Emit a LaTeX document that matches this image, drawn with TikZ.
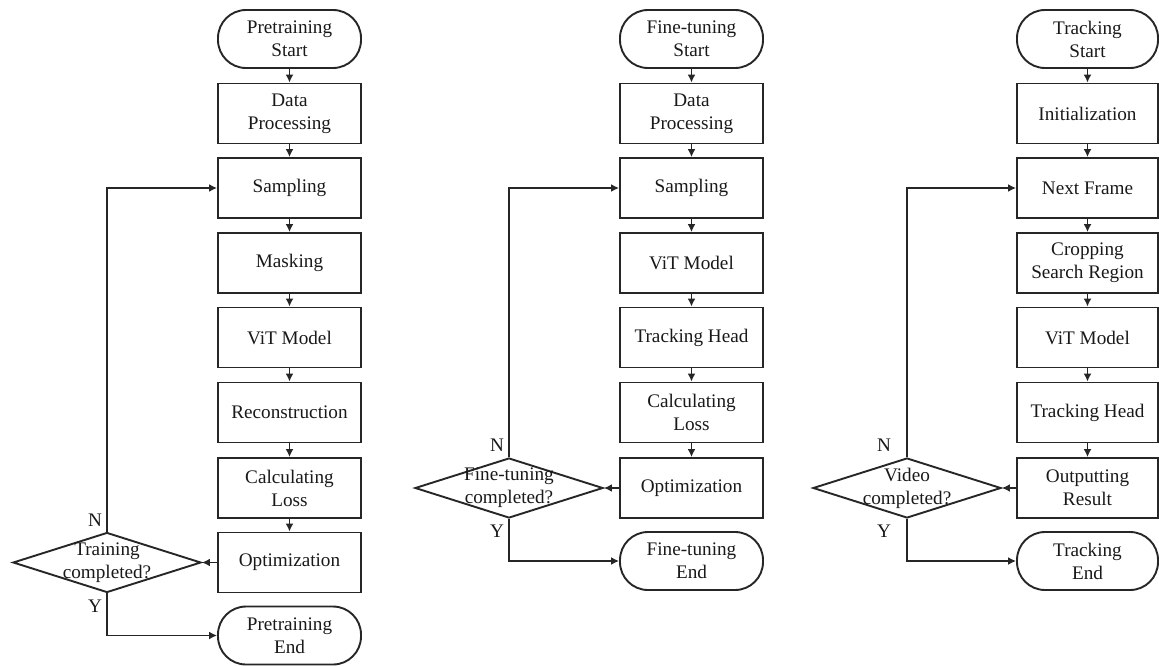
\documentclass[tikz,border=0pt]{standalone}
\usepackage{fontspec}
\setmainfont{Liberation Serif}
\usetikzlibrary{shapes.geometric,arrows.meta}
\begin{document}
\begin{tikzpicture}[x=1pt,y=-1pt,
  every node/.style={font=\fontsize{19.2}{23}\selectfont, text=black!90},
  lw/.style={line width=1.9pt, draw=black!85},
  procbox/.style={lw, draw, rectangle, minimum width=143pt, minimum height=60pt, inner sep=0pt, align=center},
  termbox/.style={lw, draw, rectangle, rounded corners=28pt, minimum width=143pt, minimum height=58pt, inner sep=0pt, align=center},
  decbox/.style={lw, draw, diamond, minimum width=188pt, minimum height=60pt, inner sep=0pt},
  arr/.style={lw, -{Latex[length=8pt,width=8pt]}},
  lbl/.style={inner sep=0pt}
]
\useasboundingbox (0,0) rectangle (1159,665);
% ---------- Column 1: Pretraining ----------
\node[termbox] (a0) at (289.5,39) {Pretraining\\Start};
\node[procbox] (a1) at (289.5,113.5) {Data\\Processing};
\node[procbox] (a2) at (289.5,188) {Sampling};
\node[procbox] (a3) at (289.5,263) {Masking};
\node[procbox] (a4) at (289.5,337.5) {ViT Model};
\node[procbox] (a5) at (289.5,412.5) {Reconstruction};
\node[procbox] (a6) at (289.5,488) {Calculating\\Loss};
\node[procbox] (a7) at (289.5,562.5) {Optimization};
\node[termbox] (a8) at (289.5,635.5) {Pretraining\\End};
\node[decbox] (ad) at (107,562.5) {};
\node[align=center, inner sep=0pt] (adt) at (107,562.5) {Training\\completed?};
\node[lbl] (aN) at (95,520) {N};
\node[lbl] (aY) at (95,606) {Y};
\foreach \i/\j in {a0/a1,a1/a2,a2/a3,a3/a4,a4/a5,a5/a6,a6/a7} \draw[arr] (\i) -- (\j);
\draw[arr] (a7.west) -- (ad.east);
\draw[arr] (ad.north) |- (a2.west);
\draw[arr] (ad.south) |- (a8.west);
% ---------- Column 2: Fine-tuning ----------
\node[termbox] (b0) at (691.5,39) {Fine-tuning\\Start};
\node[procbox] (b1) at (691.5,113.5) {Data\\Processing};
\node[procbox] (b2) at (691.5,188) {Sampling};
\node[procbox] (b3) at (691.5,263) {ViT Model};
\node[procbox] (b4) at (691.5,337.5) {Tracking Head};
\node[procbox] (b5) at (691.5,412.5) {Calculating\\Loss};
\node[procbox] (b6) at (691.5,488) {Optimization};
\node[termbox] (b7) at (691.5,561) {Fine-tuning\\End};
\node[decbox] (bd) at (509,488) {};
\node[align=center, inner sep=0pt] (bdt) at (509,488) {Fine-tuning\\completed?};
\node[lbl] (bN) at (497,445) {N};
\node[lbl] (bY) at (497,531) {Y};
\foreach \i/\j in {b0/b1,b1/b2,b2/b3,b3/b4,b4/b5,b5/b6} \draw[arr] (\i) -- (\j);
\draw[arr] (b6.west) -- (bd.east);
\draw[arr] (bd.north) |- (b2.west);
\draw[arr] (bd.south) |- (b7.west);
% ---------- Column 3: Tracking ----------
\begin{scope}[procbox/.append style={minimum width=141pt}, termbox/.append style={minimum width=141pt}]
\node[termbox] (c0) at (1087.5,39) {Tracking\\Start};
\node[procbox] (c1) at (1087.5,113.5) {Initialization};
\node[procbox] (c2) at (1087.5,188) {Next Frame};
\node[procbox] (c3) at (1087.5,263) {Cropping\\Search Region};
\node[procbox] (c4) at (1087.5,337.5) {ViT Model};
\node[procbox] (c5) at (1087.5,412.5) {Tracking Head};
\node[procbox] (c6) at (1087.5,488) {Outputting\\Result};
\node[termbox] (c7) at (1087.5,561) {Tracking\\End};
\end{scope}
\node[decbox] (cd) at (907,488) {};
\node[align=center, inner sep=0pt] (cdt) at (907,488) {Video\\completed?};
\node[lbl] (cN) at (884,445) {N};
\node[lbl] (cY) at (884,531) {Y};
\foreach \i/\j in {c0/c1,c1/c2,c2/c3,c3/c4,c4/c5,c5/c6} \draw[arr] (\i) -- (\j);
\draw[arr] (c6.west) -- (cd.east);
\draw[arr] (cd.north) |- (c2.west);
\draw[arr] (cd.south) |- (c7.west);
\end{tikzpicture}
\end{document}
